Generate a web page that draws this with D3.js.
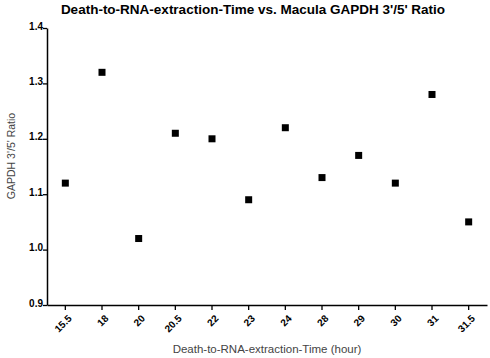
<!DOCTYPE html>
<html>
<head>
<meta charset="utf-8">
<script src="https://cdn.jsdelivr.net/npm/d3@7"></script>
<style>
  body { margin: 0; background: #fff; }
  svg { display: block; font-family: "Liberation Sans", Arial, sans-serif; }
</style>
</head>
<body>
<script>
// data
var hours = ["15.5", "18", "20", "20.5", "22", "23", "24", "28", "29", "30", "31", "31.5"];
var ratios = [1.12, 1.32, 1.02, 1.21, 1.20, 1.09, 1.22, 1.13, 1.17, 1.12, 1.28, 1.05];
var yTicks = [0.9, 1.0, 1.1, 1.2, 1.3, 1.4];

var width = 490, height = 358;
var margin = {top: 28, right: 3, bottom: 53, left: 47};

var svg = d3.select("body").append("svg")
    .attr("width", width)
    .attr("height", height);

var x = d3.scaleBand()
    .domain(hours)
    .range([margin.left, width - margin.right]);

var y = d3.scaleLinear()
    .domain([0.9, 1.4])
    .range([height - margin.bottom, margin.top]);

var xAxis = d3.axisBottom(x).tickSize(5).tickSizeOuter(0);
var yAxis = d3.axisLeft(y).tickValues(yTicks).tickFormat(d3.format(".1f")).tickSize(4).tickSizeOuter(0);

var xg = svg.append("g")
    .attr("transform", "translate(0," + (height - margin.bottom) + ")")
    .call(xAxis);
xg.attr("font-family", null).attr("font-size", null);
xg.select(".domain").attr("stroke-width", 1.5);
xg.selectAll(".tick line").attr("stroke-width", 1.3);
xg.selectAll(".tick text")
    .style("font-size", "10px")
    .style("font-weight", "bold")
    .attr("text-anchor", "end")
    .attr("dx", "-0.1em")
    .attr("dy", "0.4em")
    .attr("transform", "rotate(-45) translate(-4,3)");

var yg = svg.append("g")
    .attr("transform", "translate(" + margin.left + ",0)")
    .call(yAxis);
yg.attr("font-family", null).attr("font-size", null);
yg.select(".domain").attr("stroke-width", 1.5);
yg.selectAll(".tick line").attr("stroke-width", 1.3);
yg.selectAll(".tick text")
    .style("font-size", "10px")
    .style("font-weight", "bold")
    .attr("x", -4)
    .attr("dy", "0.1em");

// markers
var pts = hours.map(function(h, i) { return {h: h, v: ratios[i]}; });
svg.selectAll("rect.pt")
    .data(pts)
  .enter().append("rect")
    .attr("class", "pt")
    .attr("x", function(d) { return x(d.h) + x.bandwidth() / 2 - 3.5; })
    .attr("y", function(d) { return y(d.v) - 3.5; })
    .attr("width", 7)
    .attr("height", 7)
    .attr("fill", "#000");

// title and axis labels
svg.append("text")
    .attr("x", 253)
    .attr("y", 14)
    .attr("text-anchor", "middle")
    .style("font-size", "13.5px")
    .style("font-weight", "bold")
    .text("Death-to-RNA-extraction-Time vs. Macula GAPDH 3'/5' Ratio");

svg.append("text")
    .attr("x", (margin.left + width - margin.right) / 2)
    .attr("y", 353)
    .attr("text-anchor", "middle")
    .style("font-size", "11.5px")
    .attr("fill", "#444")
    .text("Death-to-RNA-extraction-Time (hour)");

svg.append("text")
    .attr("transform", "translate(15,156) rotate(-90)")
    .attr("text-anchor", "middle")
    .style("font-size", "10.5px")
    .attr("fill", "#444")
    .text("GAPDH 3'/5' Ratio");
</script>
</body>
</html>
